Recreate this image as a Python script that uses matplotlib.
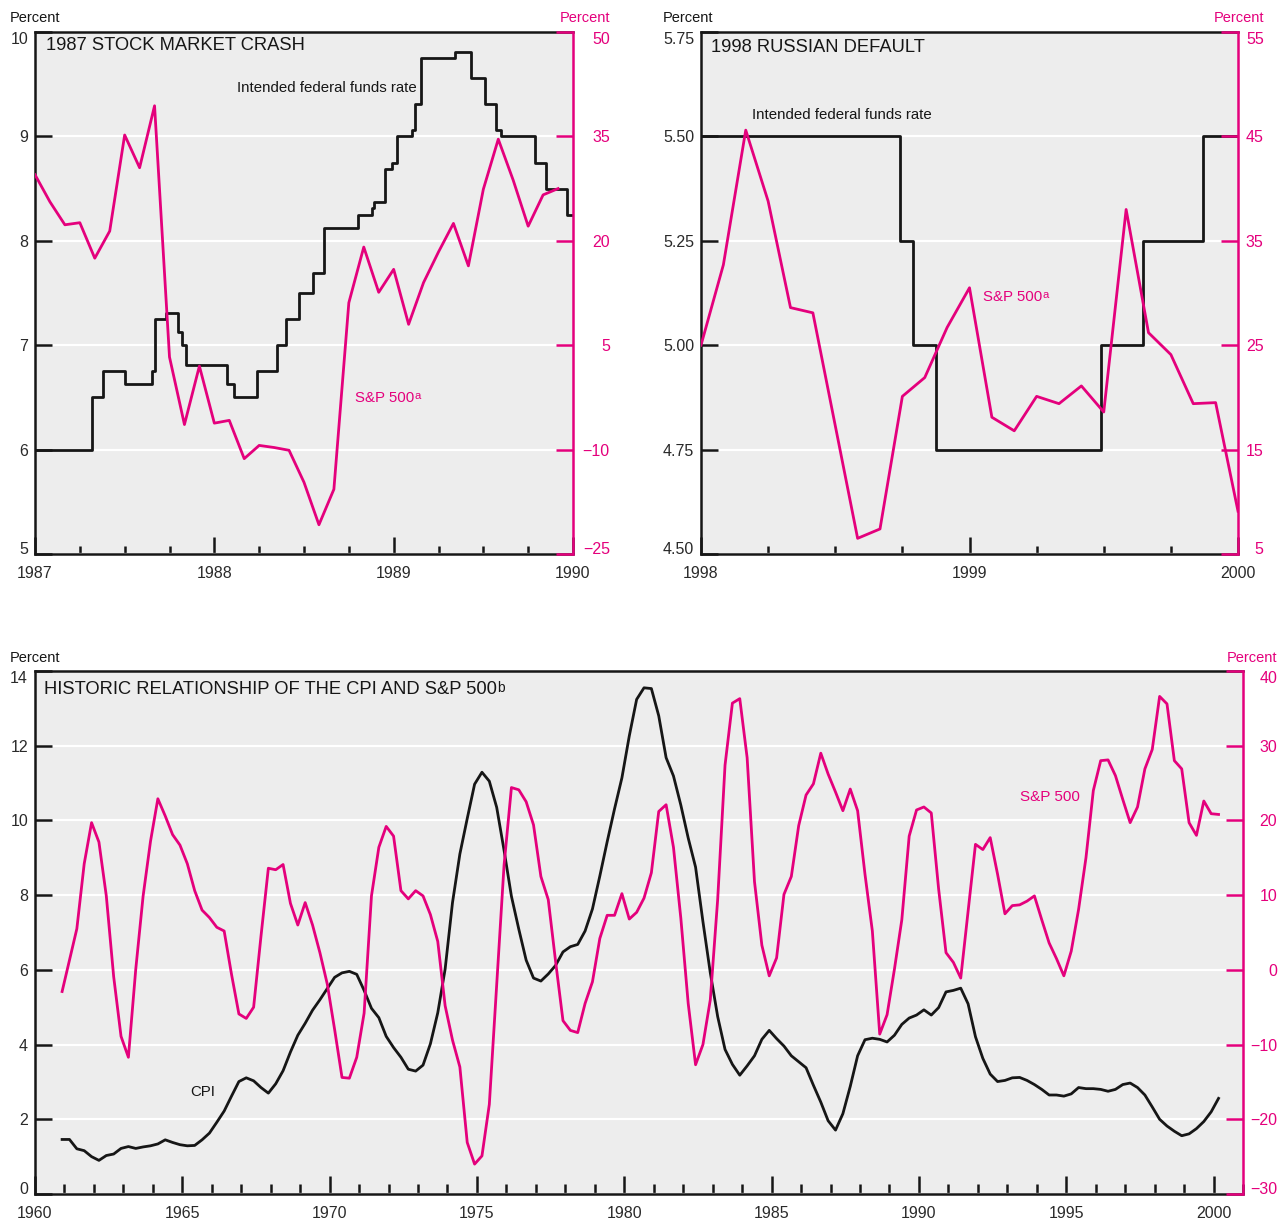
# coding=utf-8
"""Fed funds rate, CPI and S&P 500 around two shocks, plus the long-run picture."""

import numpy as np
import matplotlib
matplotlib.use("Agg")
import matplotlib.pyplot as plt
from matplotlib import font_manager

W, H = 1279, 1221
PINK = "#e4007c"
INK = "#161616"
BG = "#ededed"

_names = {f.name for f in font_manager.fontManager.ttflist}
SANS = "Liberation Sans" if "Liberation Sans" in _names else "DejaVu Sans"
FAM = [SANS, "DejaVu Sans"]
plt.rcParams["font.family"] = FAM

# --- 1987 stock market crash -------------------------------------------------
ffr87_dates = [1987.0, 1987.32, 1987.38, 1987.50, 1987.65, 1987.67, 1987.73, 1987.80,
               1987.82, 1987.84, 1988.07, 1988.11, 1988.24, 1988.35, 1988.40, 1988.47,
               1988.55, 1988.61, 1988.80, 1988.88, 1988.89, 1988.95, 1988.99, 1989.02,
               1989.10, 1989.12, 1989.15, 1989.34, 1989.43, 1989.51, 1989.57, 1989.60,
               1989.79, 1989.85, 1989.965, 1990.0]
ffr87_rates = [6.0, 6.5, 6.75, 6.625, 6.75, 7.25, 7.3125, 7.125,
               7.0, 6.8125, 6.625, 6.5, 6.75, 7.0, 7.25, 7.5,
               7.6875, 8.125, 8.25, 8.3125, 8.375, 8.6875, 8.75, 9.0,
               9.0625, 9.3125, 9.75, 9.8125, 9.5625, 9.3125, 9.0625, 9.0,
               8.75, 8.5, 8.25, 8.25]
sp87 = [29.5, 25.6, 22.3, 22.6, 17.5, 21.4, 35.2, 30.5, 39.4, 3.3, -6.4, 2.0,
        -6.2, -5.8, -11.3, -9.4, -9.7, -10.1, -14.7, -20.8, -15.7, 11.1, 19.1, 12.6,
        15.9, 8.0, 14.0, 18.4, 22.5, 16.4, 27.4, 34.6, 28.7, 22.1, 26.6, 27.5]
sp87_months = 1987 + np.arange(len(sp87)) / 12

# --- 1998 Russian default ----------------------------------------------------
ffr98_dates = [1998.0, 1998.74, 1998.79, 1998.876, 1999.49, 1999.647, 1999.87, 2000.0]
ffr98_rates = [5.5, 5.25, 5.0, 4.75, 5.0, 5.25, 5.5, 5.5]
sp98 = [25.0, 32.7, 45.6, 38.8, 28.6, 28.1, 17.3, 6.5, 7.4, 20.1, 21.9, 26.7,
        30.5, 18.1, 16.8, 20.1, 19.4, 21.1, 18.6, 38.0, 26.2, 24.1, 19.4, 19.5, 9.1]
sp98_months = 1998 + np.arange(len(sp98)) / 12

# --- Historic CPI and S&P 500, quarterly ------------------------------------
cpi_hist = [1.46, 1.46, 1.21, 1.16, 1.00, 0.90, 1.03, 1.07, 1.22, 1.27,
            1.22, 1.26, 1.29, 1.34, 1.45, 1.38, 1.32, 1.29, 1.30, 1.45,
            1.63, 1.92, 2.22, 2.62, 3.01, 3.11, 3.03, 2.85, 2.70, 2.95,
            3.30, 3.80, 4.25, 4.57, 4.92, 5.20, 5.50, 5.80, 5.92, 5.96,
            5.88, 5.45, 4.97, 4.72, 4.22, 3.92, 3.66, 3.34, 3.29, 3.45,
            4.02, 4.85, 6.02, 7.80, 9.10, 10.05, 10.97, 11.29, 11.05, 10.35,
            9.20, 7.97, 7.09, 6.26, 5.78, 5.70, 5.89, 6.12, 6.48, 6.62,
            6.68, 7.04, 7.63, 8.51, 9.43, 10.31, 11.14, 12.26, 13.24, 13.55,
            13.53, 12.80, 11.68, 11.19, 10.41, 9.53, 8.75, 7.29, 5.92, 4.75,
            3.87, 3.47, 3.18, 3.43, 3.70, 4.14, 4.38, 4.16, 3.96, 3.70,
            3.54, 3.38, 2.91, 2.46, 1.96, 1.71, 2.15, 2.88, 3.70, 4.13,
            4.17, 4.14, 4.07, 4.25, 4.54, 4.71, 4.79, 4.93, 4.79, 4.99,
            5.41, 5.45, 5.51, 5.09, 4.21, 3.63, 3.21, 3.01, 3.04, 3.11,
            3.12, 3.04, 2.93, 2.80, 2.65, 2.65, 2.62, 2.68, 2.85, 2.82,
            2.82, 2.80, 2.75, 2.80, 2.93, 2.97, 2.85, 2.65, 2.33, 2.00,
            1.82, 1.68, 1.56, 1.61, 1.75, 1.94, 2.20, 2.56]
sp_hist = [-2.9, 1.3, 5.5, 14.2, 19.7, 17.1, 9.9, -0.9, -8.9, -11.7,
           0.1, 9.9, 17.2, 22.9, 20.6, 18.1, 16.7, 14.2, 10.6, 8.0,
           7.0, 5.7, 5.2, -0.6, -5.9, -6.5, -5.0, 4.5, 13.6, 13.4,
           14.1, 8.9, 6.0, 9.0, 6.0, 2.3, -1.9, -8.0, -14.4, -14.5,
           -11.7, -5.8, 9.9, 16.4, 19.2, 17.9, 10.6, 9.5, 10.6, 9.9,
           7.4, 3.8, -4.8, -9.4, -13.0, -23.1, -26.0, -24.9, -18.0, -2.0,
           14.0, 24.4, 24.1, 22.5, 19.4, 12.5, 9.4, 1.1, -6.8, -8.1,
           -8.4, -4.5, -1.6, 4.2, 7.3, 7.3, 10.2, 6.8, 7.7, 9.6,
           13.0, 21.2, 22.1, 16.4, 6.9, -4.5, -12.7, -10.0, -4.0, 9.4,
           27.4, 35.7, 36.3, 28.4, 11.8, 3.3, -0.8, 1.6, 10.1, 12.5,
           19.3, 23.4, 24.9, 29.0, 26.2, 23.8, 21.3, 24.2, 21.3, 12.8,
           5.2, -8.6, -6.0, 0.1, 6.7, 17.9, 21.4, 21.8, 21.0, 10.8,
           2.3, 1.0, -1.1, 7.9, 16.8, 16.1, 17.7, 12.8, 7.5, 8.6,
           8.7, 9.2, 9.9, 6.7, 3.6, 1.5, -0.8, 2.5, 8.1, 15.0,
           24.0, 28.0, 28.1, 26.0, 22.8, 19.7, 21.8, 26.9, 29.5, 36.6,
           35.6, 28.0, 26.9, 19.7, 18.0, 22.6, 20.9, 20.8]
hist_quarters = 1960.92 + 0.25 * np.arange(len(cpi_hist))

fig = plt.figure(figsize=(W / 100, H / 100), dpi=100)


def fx(x):
    return x / W


def fy(y):
    return 1 - y / H


def make_panel(rect, xlim, xmajor, xminor, lim_l, ticks_l, fmt_l, lim_r, ticks_r, rpad):
    """Grey panel with inward ticks, black left axis and pink right axis."""
    ax = fig.add_axes(rect)
    ax.set_facecolor(BG)
    ax.set_xlim(*xlim)
    ax.set_ylim(*lim_l)
    ax.set_yticks(ticks_l, [fmt_l.format(v) for v in ticks_l])
    ax.set_xticks(xmajor, [str(int(v)) for v in xmajor])
    ax.set_xticks(xminor, minor=True)
    ax.yaxis.grid(True, color="white", linewidth=1.6)
    ax.set_axisbelow(True)
    ax.tick_params(axis="y", direction="in", length=12, width=1.8, color=INK,
                   labelcolor="#2a2a2a", labelsize=11.5, pad=5)
    ax.tick_params(axis="x", which="major", direction="in", length=12, width=1.8,
                   color=INK, labelcolor="#2a2a2a", labelsize=11.5, pad=9)
    ax.tick_params(axis="x", which="minor", direction="in", length=6, width=1.8, color=INK)
    for side in ("left", "top", "bottom"):
        ax.spines[side].set_linewidth(1.8)
        ax.spines[side].set_color(INK)
    ax.spines["right"].set_visible(False)

    ax2 = ax.twinx()
    ax2.set_ylim(*lim_r)
    ax2.set_yticks(ticks_r, [f"{v:g}".replace("-", "\u2212") for v in ticks_r])
    ax2.tick_params(axis="y", direction="in", length=12, width=1.8, color=PINK,
                    labelcolor=PINK, labelsize=11.5, pad=rpad)
    for side in ("left", "top", "bottom"):
        ax2.spines[side].set_visible(False)
    ax2.spines["right"].set_color(PINK)
    ax2.spines["right"].set_linewidth(1.8)

    # right labels are right-aligned; end labels sit just inside the frame
    for lab in ax2.get_yticklabels():
        lab.set_horizontalalignment("right")
    for labs in (ax.get_yticklabels(), ax2.get_yticklabels()):
        labs[-1].set_verticalalignment("top")
        labs[0].set_verticalalignment("baseline")
    return ax, ax2


def label(x, y, text, color=INK, size=11, sup=None, ha="left"):
    """Figure text placed in pixel coordinates, with an optional superscript."""
    t = fig.text(fx(x), fy(y), text, ha=ha, va="center", color=color,
                 fontsize=size, family=FAM)
    if sup:
        ax_bot.annotate(sup, xy=(1.0, 1.02), xycoords=t, xytext=(0.5, 0),
                        textcoords="offset points", ha="left", va="top",
                        color=color, fontsize=size * 0.75, family=FAM)
    return t


# Top left panel
ax_a, ax_a2 = make_panel([fx(35), fy(554), 538 / W, 522 / H],
                         (1987, 1990), [1987, 1988, 1989, 1990],
                         np.arange(1987, 1990.01, 0.25),
                         (5, 10), [5, 6, 7, 8, 9, 10], "{:g}",
                         (-25, 50), [-25, -10, 5, 20, 35, 50], 26.5)
ax_a.step(ffr87_dates, ffr87_rates, where="post", color=INK, lw=2.0)
ax_a2.plot(sp87_months, sp87, color=PINK, lw=2.0)

# Top right panel
ax_b, ax_b2 = make_panel([fx(701), fy(554), 537 / W, 522 / H],
                         (1998, 2000), [1998, 1999, 2000],
                         np.arange(1998, 2000.01, 0.25),
                         (4.5, 5.75), [4.5, 4.75, 5.0, 5.25, 5.5, 5.75], "{:.2f}",
                         (5, 55), [5, 15, 25, 35, 45, 55], 18.5)
ax_b.step(ffr98_dates, ffr98_rates, where="post", color=INK, lw=2.0)
ax_b2.plot(sp98_months, sp98, color=PINK, lw=2.0)

# Bottom panel
ax_bot, ax_bot2 = make_panel([fx(35), fy(1194), 1208 / W, 523 / H],
                             (1960, 2001), list(range(1960, 2001, 5)),
                             np.arange(1960, 2001.5, 1),
                             (0, 14), list(range(0, 15, 2)), "{:g}",
                             (-30, 40), list(range(-30, 41, 10)), 24.5)
ax_bot.tick_params(axis="x", which="major", length=13)
ax_bot.tick_params(axis="x", which="minor", length=7)
ax_bot.plot(hist_quarters, cpi_hist, color=INK, lw=2.0)
ax_bot2.plot(hist_quarters, sp_hist, color=PINK, lw=2.0)

# Axis unit labels
label(10, 18, "Percent", size=10.5)
label(610, 18, "Percent", color=PINK, size=10.5, ha="right")
label(663, 18, "Percent", size=10.5)
label(1264, 18, "Percent", color=PINK, size=10.5, ha="right")
label(10, 658, "Percent", size=10.5)
label(1277, 658, "Percent", color=PINK, size=10.5, ha="right")

# Panel titles
label(46, 46, "1987 STOCK MARKET CRASH", size=13.2)
label(711, 48, "1998 RUSSIAN DEFAULT", size=13.2)
label(44, 690, "HISTORIC RELATIONSHIP OF THE CPI AND S&P 500", size=13.2, sup="b")

# Series labels
label(237, 88, "Intended federal funds rate", size=10.8)
label(355, 398, "S&P 500", color=PINK, size=10.8, sup="a")
label(752, 115, "Intended federal funds rate", size=10.8)
label(983, 297, "S&P 500", color=PINK, size=10.8, sup="a")
label(190, 1092, "CPI", size=10.8)
label(1020, 797, "S&P 500", color=PINK, size=11)

fig.savefig("out.png", dpi=100)
